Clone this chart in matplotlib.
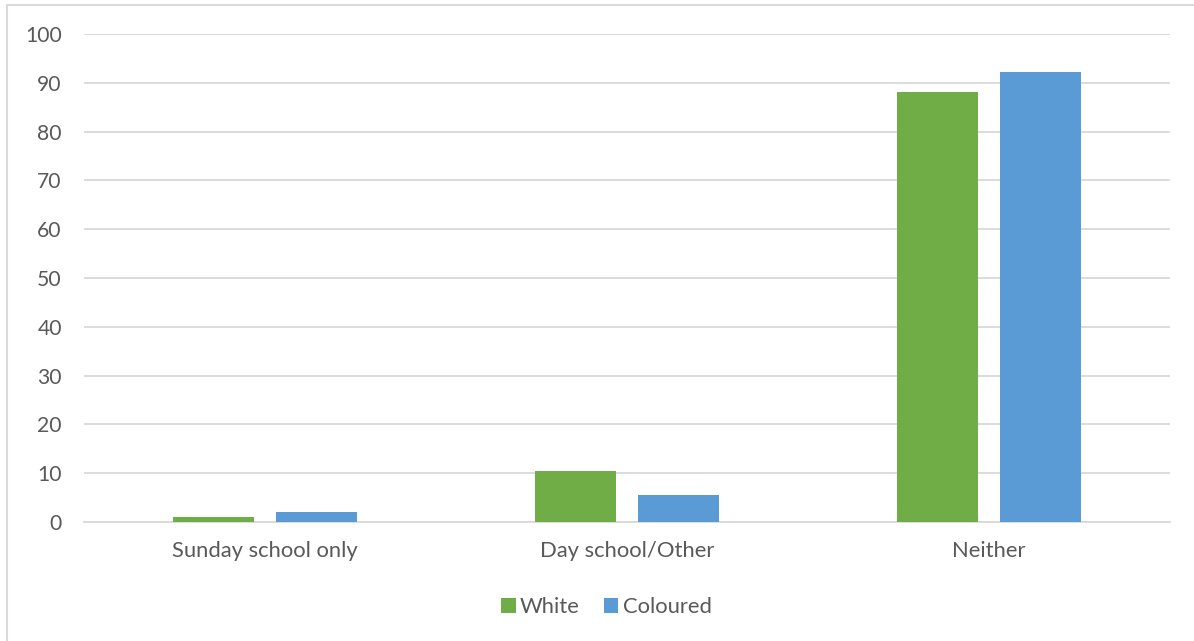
import matplotlib.pyplot as plt
import numpy as np
from matplotlib.lines import Line2D

plt.rcParams['font.family'] = ['Lato', 'DejaVu Sans']

categories = ['Sunday school only', 'Day school/Other', 'Neither']
white = [1.0, 10.5, 88.2]
coloured = [2.1, 5.5, 92.2]

GREEN = '#70AD47'
BLUE = '#5B9BD5'
TEXT = '#595959'
GRID = '#D9D9D9'

fig = plt.figure(figsize=(11.94, 6.41), dpi=100)
ax = fig.add_axes([0.0704, 0.1857, 0.9096, 0.7613])

x = np.arange(len(categories))
w = 0.224
off = 0.142
ax.bar(x - off, white, w, color=GREEN, label='White', zorder=3)
ax.bar(x + off, coloured, w, color=BLUE, label='Coloured', zorder=3)

ax.set_xlim(-0.5, len(categories) - 0.5)
ax.set_ylim(0, 100)
ax.set_yticks(range(0, 101, 10))
ax.set_xticks(x)
ax.set_xticklabels(categories)
ax.grid(axis='y', color=GRID, linewidth=1.3, zorder=0)
ax.set_axisbelow(True)
for s in ['top', 'right', 'left']:
    ax.spines[s].set_visible(False)
ax.spines['bottom'].set_color(GRID)
ax.spines['bottom'].set_linewidth(1.3)
ax.tick_params(axis='y', length=0, pad=16, labelsize=15.2, labelcolor=TEXT)
ax.tick_params(axis='x', length=0, pad=14, labelsize=15.8, labelcolor=TEXT)

# legend centered under the axis
fig.legend(loc='center', bbox_to_anchor=(0.508, 0.053), ncol=2, frameon=False,
           fontsize=15.8, labelcolor=TEXT, handlelength=0.65, handleheight=0.65,
           handletextpad=0.2, columnspacing=1.1)

# chart frame (top and left edges)
fig.add_artist(Line2D([0.006, 0.006, 0.9995], [0.0, 0.992, 0.992],
                      transform=fig.transFigure, color=GRID, linewidth=1.5))

fig.savefig('out.png', dpi=100, facecolor='white')
